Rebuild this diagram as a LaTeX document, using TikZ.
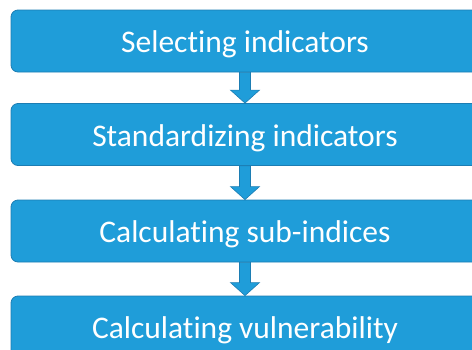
\documentclass[tikz,border=0pt]{standalone}
\usepackage{fontspec}
\setmainfont[Ligatures=NoCommon]{Carlito}
\usetikzlibrary{calc}
\definecolor{stepfill}{HTML}{1F9DD9}
\definecolor{stepline}{HTML}{1C7DB3}

% block arrow from the bottom of one step to the top of the next
\newcommand{\stepflow}[2]{%
  \draw[flowarrow]
    ($(#1.south)+(-5.5,0)$) -- ($(#2.north)+(-5.5,13)$) -- ($(#2.north)+(-14.5,13)$)
    -- (#2.north) -- ($(#2.north)+(14.5,13)$) -- ($(#2.north)+(5.5,13)$)
    -- ($(#1.south)+(5.5,0)$) -- cycle;}

\begin{document}
\begin{tikzpicture}[
  x=1pt, y=1pt,
  font=\fontsize{31.5}{36}\selectfont,
  stepbox/.style={rectangle,rounded corners=7pt,draw=stepline,fill=stepfill,
    line width=.8pt,text=white,minimum width=468pt,minimum height=62pt,inner sep=0pt,
    text height=26pt,text depth=2.6pt},
  flowarrow/.style={draw=stepline,fill=stepfill,line width=.6pt,line join=miter}
]
\useasboundingbox (0,0) rectangle (472,-349);
\clip (0,0) rectangle (472,-349);
% the four steps, top to bottom
\node[stepbox] (select) at (245,-41) {Selecting indicators};
\node[stepbox] (standard) at (245,-134.5) {Standardizing indicators};
\node[stepbox] (subindex) at (245,-231) {Calculating sub-indices};
\node[stepbox] (vulner) at (245,-327) {Calculating vulnerability};
\stepflow{select}{standard}
\stepflow{standard}{subindex}
\stepflow{subindex}{vulner}
\end{tikzpicture}
\end{document}
